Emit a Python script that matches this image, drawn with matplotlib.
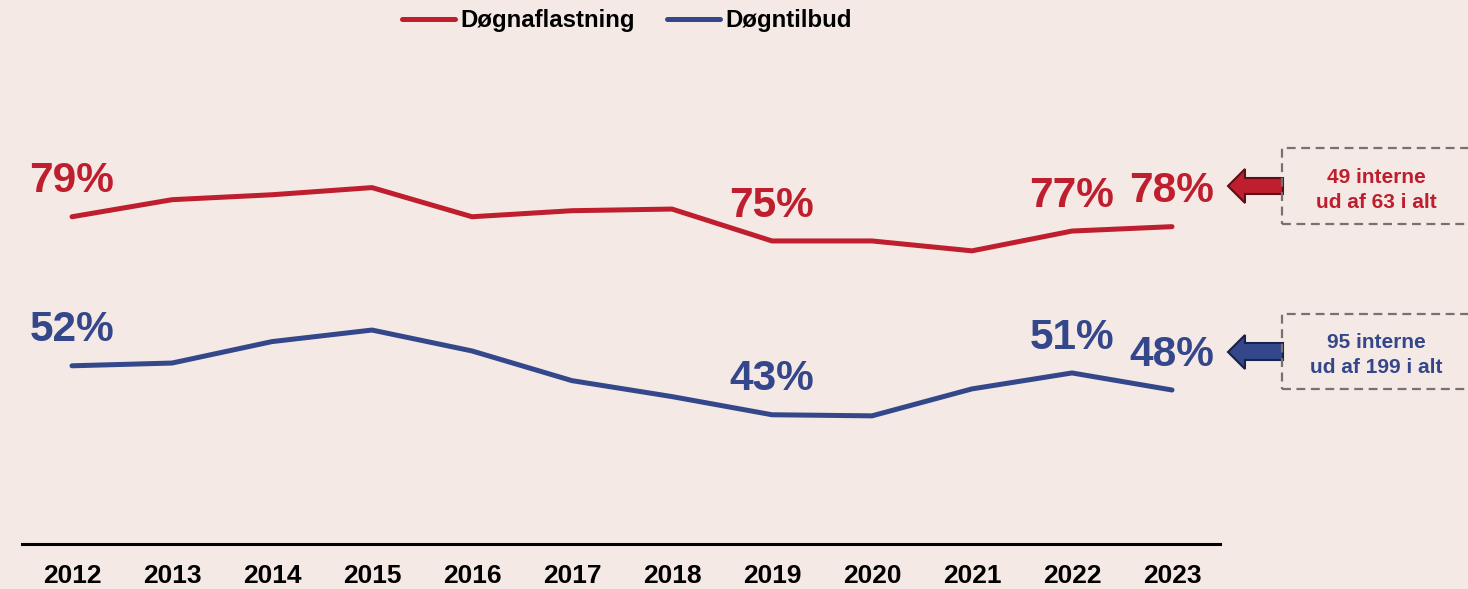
import matplotlib
matplotlib.use('Agg')
import matplotlib.pyplot as plt
from matplotlib.patches import Polygon, Rectangle

plt.rcParams['font.family'] = ['Liberation Sans', 'DejaVu Sans']
plt.rcParams['font.weight'] = 'bold'

# data
years = [2012, 2013, 2014, 2015, 2016, 2017, 2018, 2019, 2020, 2021, 2022, 2023]
dognaflastning = [79.1, 82.2, 83.1, 84.4, 79.1, 80.2, 80.5, 74.7, 74.7, 72.9, 76.5, 77.3]
dogntilbud = [52.0, 52.5, 56.4, 58.5, 54.7, 49.3, 46.4, 43.1, 42.9, 47.8, 50.7, 47.6]

# labelled points: (year, text)
red_labels = [(2012, '79%'), (2019, '75%'), (2022, '77%'), (2023, '78%')]
blue_labels = [(2012, '52%'), (2019, '43%'), (2022, '51%'), (2023, '48%')]

red_note = ['49 interne', 'ud af 63 i alt']
blue_note = ['95 interne', 'ud af 199 i alt']

RED = '#BE1E2D'
BLUE = '#34478B'
BG = '#F4E9E4'

W, H = 1468, 589
fig = plt.figure(figsize=(W / 100, H / 100), dpi=100, facecolor=BG)


def fx(px):
    return px / W


def fy(py):
    return 1 - py / H


ax = fig.add_axes([fx(22), fy(544), fx(1220) - fx(22), fy(60) - fy(544)])
ax.set_facecolor(BG)
ax.set_xlim(2011.5, 2023.48)
ax.set_ylim(19.6, 107.6)

ax.plot(years, dognaflastning, color=RED, lw=3.6, solid_capstyle='round', label='Døgnaflastning')
ax.plot(years, dogntilbud, color=BLUE, lw=3.6, solid_capstyle='round', label='Døgntilbud')

for yr, txt in red_labels:
    ax.annotate(txt, (yr, dognaflastning[years.index(yr)]), xytext=(0, 17.5),
                textcoords='offset points', ha='center', va='baseline',
                fontsize=30.5, fontweight='bold', color=RED)
for yr, txt in blue_labels:
    ax.annotate(txt, (yr, dogntilbud[years.index(yr)]), xytext=(0, 17.5),
                textcoords='offset points', ha='center', va='baseline',
                fontsize=30.5, fontweight='bold', color=BLUE)

for s in ['top', 'left', 'right']:
    ax.spines[s].set_visible(False)
ax.spines['bottom'].set_linewidth(2.2)
ax.spines['bottom'].set_color('black')
ax.set_yticks([])
ax.set_xticks(years)
ax.set_xticklabels([str(y) for y in years], fontsize=19, fontweight='bold')
ax.tick_params(axis='x', length=0, pad=14.5)

fig.legend(loc='center', bbox_to_anchor=(fx(627), fy(21)), ncol=2, frameon=False,
           handlelength=2.2, handletextpad=0.22, columnspacing=1.35,
           prop={'weight': 'bold', 'size': 17.3})


def arrow(y_tip, y_head0, y_head1, y_body0, y_body1, fc, ec):
    pts = [(1228, y_tip), (1245, y_head0), (1245, y_body0), (1283, y_body0),
           (1283, y_body1), (1245, y_body1), (1245, y_head1)]
    fig.patches.append(Polygon([(fx(x), fy(y)) for x, y in pts], closed=True,
                               transform=fig.transFigure, facecolor=fc,
                               edgecolor=ec, lw=1.5))


arrow(186, 169, 203, 178, 194, RED, '#5E0E16')
arrow(352, 335, 369, 343, 360, BLUE, '#18214A')


def box(y0, y1, lines, color):
    fig.patches.append(Rectangle((fx(1282), fy(y1)), fx(1480) - fx(1282), fy(y0) - fy(y1),
                                 transform=fig.transFigure, facecolor='none',
                                 edgecolor='#777270', lw=1.6, ls=(0, (4, 2.5))))
    mid = (y0 + y1) / 2
    fig.text(fx(1376), fy(mid - 9), lines[0], ha='center', va='center',
             fontsize=15, fontweight='bold', color=color)
    fig.text(fx(1376), fy(mid + 16), lines[1], ha='center', va='center',
             fontsize=15, fontweight='bold', color=color)


box(148, 224, red_note, RED)
box(314, 389, blue_note, BLUE)

fig.savefig('out.png', dpi=100, facecolor=BG)
